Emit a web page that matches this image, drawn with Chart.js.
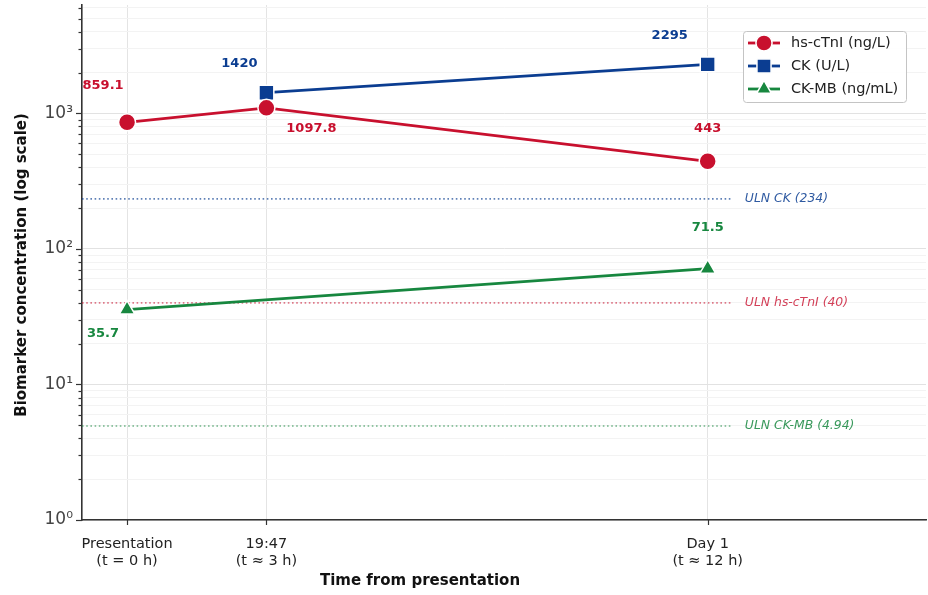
<!DOCTYPE html>
<html><head><meta charset="utf-8">
<script src="https://cdn.jsdelivr.net/npm/chart.js@4.4.0/dist/chart.umd.min.js"></script>
<style>html,body{margin:0;padding:0;background:#fff}canvas{display:block}</style>
</head><body>
<canvas id="c" width="928" height="595"></canvas>
<script>
// ---- data ----
const timePoints = [0, 3, 12.5];
const timeLabels = [["Presentation", "(t = 0 h)"], ["19:47", "(t \u2248 3 h)"], ["Day 1", "(t \u2248 12 h)"]];
const hsTimes = [0, 3, 12.5];
const hsCTnI = [859.1, 1097.8, 443];
const ckTimes = [3, 12.5];
const ck = [1420, 2295];
const ckmbTimes = [0, 12.5];
const ckmb = [35.7, 71.5];
const seriesNames = ["hs-cTnI (ng/L)", "CK (U/L)", "CK-MB (ng/mL)"];
const ulnValues = [234, 40, 4.94];
const ulnLabels = ["ULN CK (234)", "ULN hs-cTnI (40)", "ULN CK-MB (4.94)"];
const yMajorTicks = [1, 10, 100, 1000];

// ---- styles ----
const X_MIN = -0.97, X_MAX = 17.2, ULN_END = 13, ULN_LABEL_X = 13.3;
const Y_MIN = 1, Y_MAX = 6300;
const RED = '#c8102e', BLUE = '#0b3d91', GREEN = '#17873f';
const seriesColors = [RED, BLUE, GREEN];
const ulnColors = ['rgba(11,61,145,0.65)', 'rgba(200,16,46,0.55)', 'rgba(23,135,63,0.6)'];
const ulnTextColors = ['rgba(11,61,145,0.85)', 'rgba(200,16,46,0.8)', 'rgba(23,135,63,0.85)'];
const pointStyles = ['circle', 'rect', 'triangle'];
const pointRadii = [8.5, 10.5, 9];
const labelOffsets = [
  [[-24, -37], [45, 21], [0, -33]],
  [[-27, -29], [-38, -29]],
  [[-24, 24], [0, -41]]
];
const FONT = '"DejaVu Sans", Verdana, sans-serif';

const sup = {'0':'\u2070','1':'\u00b9','2':'\u00b2','3':'\u00b3','4':'\u2074','5':'\u2075','6':'\u2076'};
function pts(xs, ys) { return xs.map((x, i) => ({x: x, y: ys[i]})); }

const seriesData = [pts(hsTimes, hsCTnI), pts(ckTimes, ck), pts(ckmbTimes, ckmb)];

const datasets = seriesData.map((d, i) => ({
  label: seriesNames[i],
  data: d,
  borderColor: seriesColors[i],
  backgroundColor: seriesColors[i],
  borderWidth: 2.8,
  pointStyle: pointStyles[i],
  pointRadius: pointRadii[i],
  pointHoverRadius: pointRadii[i],
  pointBackgroundColor: seriesColors[i],
  pointBorderColor: '#ffffff',
  pointBorderWidth: 1.5,
  tension: 0,
  order: 1
}));
ulnValues.forEach((v, i) => {
  datasets.push({
    label: ulnLabels[i],
    data: [{x: X_MIN, y: v}, {x: ULN_END, y: v}],
    borderColor: ulnColors[i],
    borderWidth: 1.6,
    borderDash: [1.6, 2.6],
    pointRadius: 0,
    order: 10
  });
});

function isSignificandInt(v) {
  const p = Math.pow(10, Math.floor(Math.log10(v) + 1e-9));
  const s = v / p;
  return Math.abs(s - Math.round(s)) < 1e-6;
}

const overlay = {
  id: 'overlay',
  afterDatasetsDraw(chart) {
    const ctx = chart.ctx;
    const xs = chart.scales.x, ys = chart.scales.y;
    const area = chart.chartArea;
    ctx.save();
    // tick marks
    ctx.strokeStyle = '#333';
    ctx.lineWidth = 1.2;
    ys.ticks.forEach(t => {
      const v = t.value;
      if (!isSignificandInt(v)) return;
      const y = Math.round(ys.getPixelForValue(v)) + 0.5;
      const major = yMajorTicks.includes(v);
      const len = major ? 6 : 3.5;
      ctx.beginPath(); ctx.moveTo(area.left, y); ctx.lineTo(area.left - len, y); ctx.stroke();
    });
    timePoints.forEach(v => {
      const x = Math.round(xs.getPixelForValue(v)) + 0.5;
      ctx.beginPath(); ctx.moveTo(x, area.bottom); ctx.lineTo(x, area.bottom + 5); ctx.stroke();
    });
    // ULN labels
    ctx.font = 'italic 12.4px ' + FONT;
    ctx.textAlign = 'left'; ctx.textBaseline = 'middle';
    ulnValues.forEach((v, i) => {
      ctx.fillStyle = ulnTextColors[i];
      ctx.fillText(ulnLabels[i], xs.getPixelForValue(ULN_LABEL_X), ys.getPixelForValue(v));
    });
    // data labels
    ctx.font = 'bold 13px ' + FONT;
    ctx.textAlign = 'center'; ctx.textBaseline = 'middle';
    seriesData.forEach((d, i) => {
      const meta = chart.getDatasetMeta(i);
      ctx.fillStyle = seriesColors[i];
      d.forEach((p, j) => {
        const el = meta.data[j];
        const off = labelOffsets[i][j];
        ctx.fillText(String(p.y), el.x + off[0], el.y + off[1]);
      });
    });
    // legend
    const lx = 743, ly = 31, lw = 163, lh = 71;
    ctx.fillStyle = 'rgba(255,255,255,0.9)';
    ctx.strokeStyle = '#c4c4c4';
    ctx.lineWidth = 1;
    ctx.beginPath();
    if (ctx.roundRect) ctx.roundRect(lx + 0.5, ly + 0.5, lw, lh, 3); else ctx.rect(lx + 0.5, ly + 0.5, lw, lh);
    ctx.fill(); ctx.stroke();
    seriesNames.forEach((name, i) => {
      const cy = ly + 12 + i * 23;
      ctx.strokeStyle = seriesColors[i];
      ctx.lineWidth = 2.8;
      ctx.beginPath(); ctx.moveTo(lx + 5, cy); ctx.lineTo(lx + 37, cy); ctx.stroke();
      ctx.fillStyle = seriesColors[i];
      ctx.strokeStyle = '#fff';
      ctx.lineWidth = 1.5;
      Chart.helpers.drawPoint(ctx, {pointStyle: pointStyles[i], radius: pointRadii[i] * 0.95, borderWidth: 1.5, rotation: 0}, lx + 21, cy);
      ctx.fillStyle = '#222';
      ctx.font = '14.5px ' + FONT;
      ctx.textAlign = 'left'; ctx.textBaseline = 'middle';
      ctx.fillText(name, lx + 48, cy);
    });
    // axis titles
    ctx.fillStyle = '#111';
    ctx.font = 'bold 15px ' + FONT;
    ctx.textAlign = 'center'; ctx.textBaseline = 'middle';
    ctx.fillText('Time from presentation', 420, 581);
    ctx.translate(22, 265);
    ctx.rotate(-Math.PI / 2);
    ctx.fillText('Biomarker concentration (log scale)', 0, 0);
    ctx.restore();
  }
};

new Chart(document.getElementById('c'), {
  type: 'line',
  data: {datasets: datasets},
  options: {
    responsive: false,
    devicePixelRatio: 1,
    animation: false,
    events: [],
    layout: {autoPadding: false, padding: {top: 5, right: 2, left: 0, bottom: 0}},
    plugins: {legend: {display: false}, tooltip: {enabled: false}},
    scales: {
      x: {
        type: 'linear',
        min: X_MIN, max: X_MAX,
        afterBuildTicks: s => { s.ticks = timePoints.map(v => ({value: v})); },
        afterFit: s => { s.height = 75; s.paddingLeft = 0; s.paddingRight = 0; },
        ticks: {
          callback: v => timeLabels[timePoints.indexOf(v)] || '',
          font: {family: FONT, size: 14.5, lineHeight: 1.18},
          color: '#222',
          padding: 16,
          maxRotation: 0,
          autoSkip: false
        },
        grid: {color: '#e4e4e4', lineWidth: 1, drawTicks: false},
        border: {color: '#333', width: 1.6}
      },
      y: {
        type: 'logarithmic',
        min: Y_MIN, max: Y_MAX,
        afterFit: s => { s.width = 82; s.paddingTop = 0; s.paddingBottom = 0; },
        ticks: {
          autoSkip: false,
          callback: v => yMajorTicks.includes(v) ? '10' + sup[String(Math.round(Math.log10(v)))] : '',
          font: {family: FONT, size: 17},
          color: '#444',
          padding: 9
        },
        grid: {
          drawTicks: false,
          lineWidth: 1,
          color: c => {
            const v = c.tick ? c.tick.value : 0;
            if (yMajorTicks.includes(v)) return '#e2e2e2';
            if (!isSignificandInt(v)) return 'rgba(0,0,0,0)';
            return '#f3f3f3';
          }
        },
        border: {color: '#333', width: 1.6}
      }
    }
  },
  plugins: [overlay]
});
</script>
</body></html>
